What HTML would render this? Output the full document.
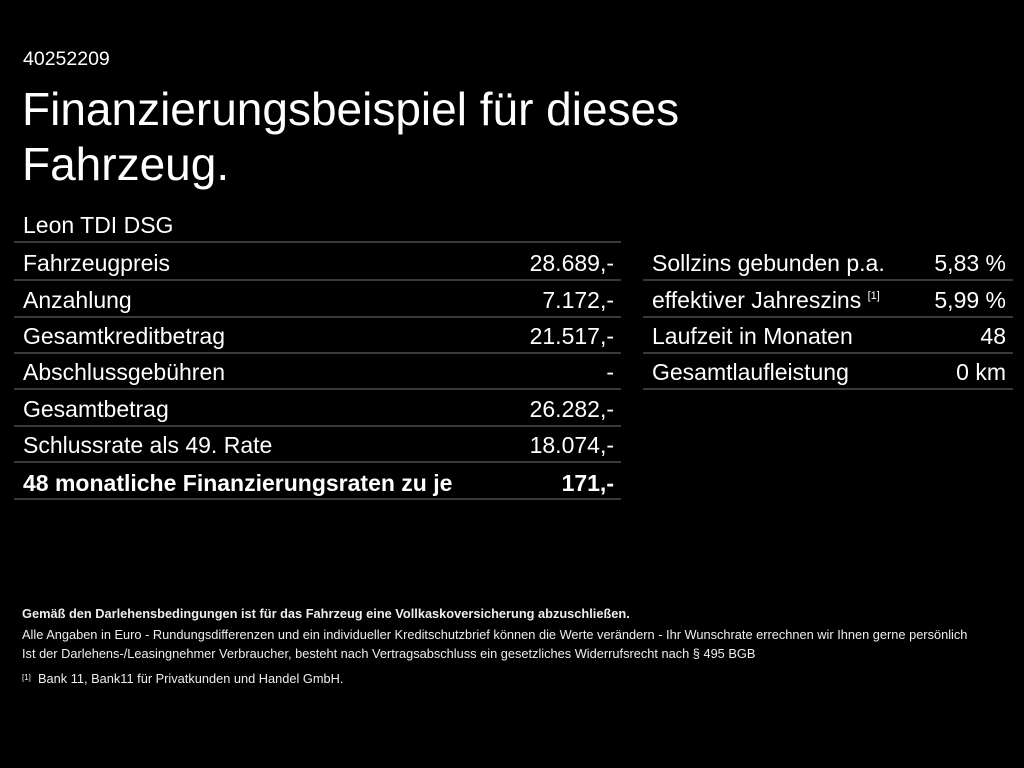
<!DOCTYPE html>
<html><head><meta charset="utf-8"><style>
body{margin:0;width:1024px;height:768px;background:#000;color:#fff;font-family:"Liberation Sans",Arial,sans-serif;position:relative;overflow:hidden}
.a{position:absolute;white-space:nowrap}
.row{position:absolute;height:36px;border-bottom:2px solid #3a3a3a;font-size:23px;line-height:40px}
.row span{position:absolute;left:9px}
.row b,.row i{position:absolute;right:7px;font-style:normal;font-weight:normal}
.L{left:14px;width:607px}
.R{left:643px;width:370px}
.f{font-size:12.8px;left:22px;color:#eee}
sup{font-size:11px;position:relative;top:-9px;vertical-align:baseline;line-height:0}
</style></head><body>
<div class="a" style="left:23px;top:48px;font-size:19.5px">40252209</div>
<div class="a" style="left:22px;top:82px;font-size:46px;line-height:55px">Finanzierungsbeispiel für dieses<br>Fahrzeug.</div>
<div class="row L" style="top:205px"><span>Leon TDI DSG</span></div>
<div class="row L" style="top:243px"><span>Fahrzeugpreis</span><b>28.689,-</b></div>
<div class="row L" style="top:280px"><span>Anzahlung</span><b>7.172,-</b></div>
<div class="row L" style="top:316px"><span>Gesamtkreditbetrag</span><b>21.517,-</b></div>
<div class="row L" style="top:352px"><span>Abschlussgebühren</span><b>-</b></div>
<div class="row L" style="top:389px"><span>Gesamtbetrag</span><b>26.282,-</b></div>
<div class="row L" style="top:425px"><span>Schlussrate als 49. Rate</span><b>18.074,-</b></div>
<div class="row L" style="top:462px;font-weight:bold;line-height:42px"><span>48 monatliche Finanzierungsraten zu je</span><b style="font-weight:bold">171,-</b></div>
<div class="row R" style="top:243px"><span>Sollzins gebunden p.a.</span><b>5,83 %</b></div>
<div class="row R" style="top:280px"><span>effektiver Jahreszins <sup>[1]</sup></span><b>5,99 %</b></div>
<div class="row R" style="top:316px"><span>Laufzeit in Monaten</span><b>48</b></div>
<div class="row R" style="top:352px"><span>Gesamtlaufleistung</span><b>0 km</b></div>
<div class="a f" style="top:606px;font-weight:bold">Gemäß den Darlehensbedingungen ist für das Fahrzeug eine Vollkaskoversicherung abzuschließen.</div>
<div class="a f" style="top:627px">Alle Angaben in Euro - Rundungsdifferenzen und ein individueller Kreditschutzbrief können die Werte verändern - Ihr Wunschrate errechnen wir Ihnen gerne persönlich</div>
<div class="a f" style="top:646px">Ist der Darlehens-/Leasingnehmer Verbraucher, besteht nach Vertragsabschluss ein gesetzliches Widerrufsrecht nach § 495 BGB</div>
<div class="a f" style="top:671px"><span style="font-size:8px;position:relative;top:-3px">[1]</span>&nbsp; Bank 11, Bank11 für Privatkunden und Handel GmbH.</div>
</body></html>
